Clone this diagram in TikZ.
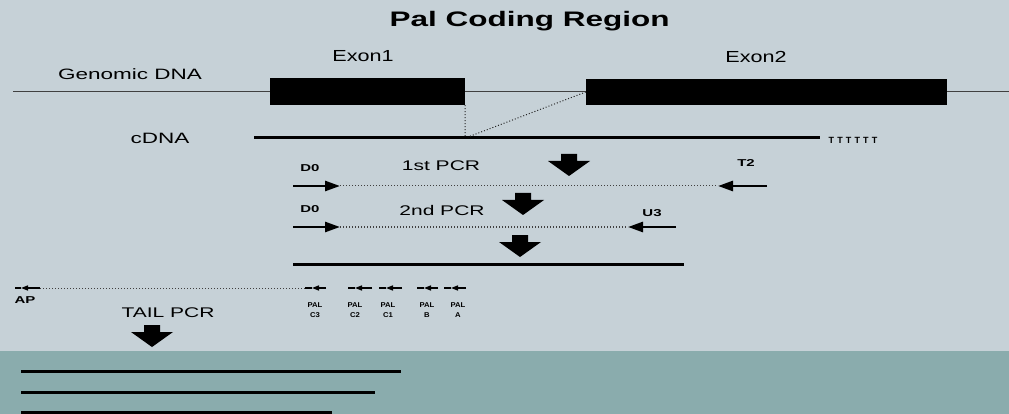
\documentclass[tikz,border=0pt]{standalone}
\usepackage{fontspec}
\setmainfont{Liberation Sans}
% wide sans faces for the labels
\newfontfamily\wsans[FakeStretch=1.5]{Liberation Sans}
\newfontfamily\esans[FakeStretch=1.35]{Liberation Sans}
\newfontfamily\psans[FakeStretch=1.1]{Liberation Sans}
\newfontfamily\tsans[LetterSpace=35]{Liberation Sans}
\usetikzlibrary{arrows.meta}
\definecolor{paper}{RGB}{198,209,215}
\definecolor{band}{RGB}{138,172,173}

\tikzset{
  pics/pcrstep/.style={code={
    \fill[black] (-8,0) -- (8,0) -- (8,7) -- (21,7) -- (0,22) -- (-21,7) -- (-8,7) -- cycle;
  }}
}

\begin{document}
\begin{tikzpicture}[x=1pt,y=-1pt,
  lbl/.style={anchor=base, inner sep=0pt, text=black},
  tag/.style={lbl, font=\wsans\bfseries\fontsize{10}{12}\selectfont},
  paltag/.style={lbl, font=\psans\bfseries\fontsize{7}{8}\selectfont},
  exon/.style={fill=black, draw=none, inner sep=0pt},
  genome/.style={line width=1pt, black!75},
  strand/.style={line width=3pt, black},
  link/.style={line width=1pt, dotted, black!85},
  template/.style={line width=1pt, dotted, black!75},
  primer/.style={line width=2.6pt, black, -{Triangle[length=15pt,width=10pt]}},
  oligo/.style={line width=1.5pt, black, -{Triangle[length=7pt,width=5pt]}},
  oligotail/.style={line width=1.5pt, black}
]
% background
\fill[paper] (0,0) rectangle (1009,351);
\fill[band] (0,351) rectangle (1009,414);
\useasboundingbox (0,0) rectangle (1009,414);

% title
\node[lbl, font=\wsans\bfseries\fontsize{21}{24}\selectfont] (title) at (529.5,26.5) {Pal Coding Region};

% genomic DNA with the two exons
\coordinate (gL) at (13,92);
\coordinate (gR) at (1009,92);
\draw[genome] (gL) -- (gR);
\node[exon, minimum width=195pt, minimum height=27pt] (exon1) at (367.5,91.5) {};
\node[exon, minimum width=361pt, minimum height=26pt] (exon2) at (766.5,92) {};
\node[lbl, font=\wsans\fontsize{15}{18}\selectfont] (glabel) at (130,80) {Genomic DNA};
\node[lbl, font=\esans\fontsize{16}{19}\selectfont] (e1label) at (363,62) {Exon1};
\node[lbl, font=\esans\fontsize{16}{19}\selectfont] (e2label) at (756,63) {Exon2};

% cDNA
\coordinate (cL) at (254,138);
\coordinate (cR) at (820,138);
\coordinate (cJ1) at (465,137);
\coordinate (cJ2) at (468,137);
\draw[strand] (cL) -- (cR);
\node[lbl, font=\wsans\fontsize{15}{18}\selectfont] (clabel) at (160,144) {cDNA};
\node[lbl, font=\tsans\bfseries\fontsize{9}{10}\selectfont] (polyT) at (853,143.5) {TTTTTT};
\draw[link] (exon1.south east) -- (cJ1);
\draw[link] (exon2.west) -- (cJ2);

% first PCR
\pic at (569,154) {pcrstep};
\node[tag] (d0a) at (310,172) {D0};
\node[lbl, font=\wsans\fontsize{14}{16}\selectfont] (pcr1) at (441,171) {1st PCR};
\node[tag] (t2) at (746,167) {T2};
\coordinate (f1s) at (293,186);
\coordinate (f1e) at (340,186);
\coordinate (r1s) at (767,186);
\coordinate (r1e) at (718,186);
\draw[template] (f1e) -- (r1e);
\draw[primer] (f1s) -- (f1e);
\draw[primer] (r1s) -- (r1e);

% second PCR
\pic at (523,193) {pcrstep};
\node[tag] (d0b) at (310,212) {D0};
\node[lbl, font=\wsans\fontsize{14}{16}\selectfont] (pcr2) at (442,215) {2nd PCR};
\node[tag] (u3) at (652,216) {U3};
\coordinate (f2s) at (293,227);
\coordinate (f2e) at (340,227);
\coordinate (r2s) at (676,227);
\coordinate (r2e) at (628,227);
\draw[template] (f2e) -- (r2e);
\draw[primer] (f2s) -- (f2e);
\draw[primer] (r2s) -- (r2e);

% product
\pic at (520,235) {pcrstep};
\coordinate (pL) at (293,264);
\coordinate (pR) at (684,264);
\draw[strand] (pL) -- (pR);

% tail PCR primers
\coordinate (apR) at (40,288);
\coordinate (apT) at (21,288);
\coordinate (apL) at (15,288);
\draw[oligo] (apR) -- (apT);
\draw[oligotail] (apT) -- (apL);
\node[tag] (ap) at (25,303) {AP};
\coordinate (c3L) at (305,288);
\draw[template] (apR) -- (c3L);
\foreach \n/\xl/\xr/\xt/\sub in {C3/305/326/315/C3, C2/348/372/355/C2, C1/379/402/388/C1, B/417/438/427/B, A/444/466/458/A}{
  \coordinate (pal\n R) at (\xr,288);
  \coordinate (pal\n T) at (\xl+7,288);
  \coordinate (pal\n L) at (\xl,288);
  \draw[oligo] (pal\n R) -- (pal\n T);
  \draw[oligotail] (pal\n T) -- (pal\n L);
  \node[paltag] (pal\n a) at (\xt,307) {PAL};
  \node[paltag] (pal\n b) at (\xt,317) {\sub};
}
\node[lbl, font=\wsans\fontsize{14}{16}\selectfont] (tail) at (168,317) {TAIL PCR};
\pic at (152,325) {pcrstep};

% tail PCR products
\coordinate (b1L) at (21,371);
\coordinate (b1R) at (401,371);
\coordinate (b2L) at (21,392);
\coordinate (b2R) at (375,392);
\coordinate (b3L) at (21,412);
\coordinate (b3R) at (332,412);
\draw[strand] (b1L) -- (b1R);
\draw[strand] (b2L) -- (b2R);
\draw[strand] (b3L) -- (b3R);
\end{tikzpicture}
\end{document}
